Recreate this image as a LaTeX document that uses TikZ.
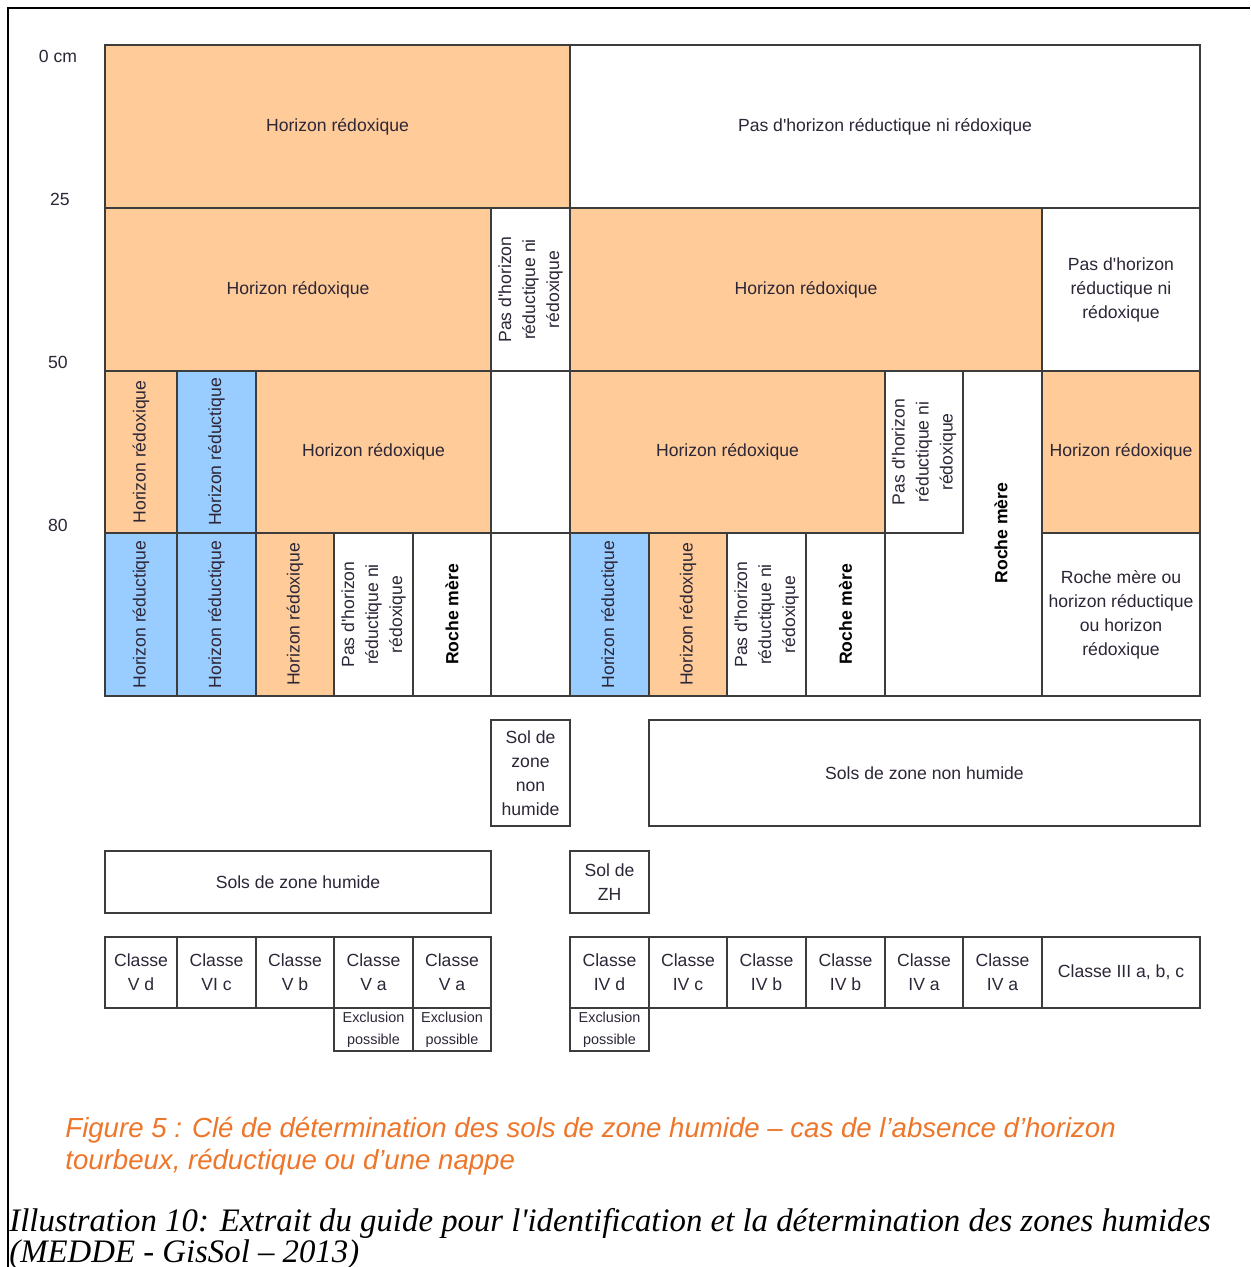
\documentclass[tikz,border=0pt]{standalone}
\usepackage{fontspec}
\setmainfont{Liberation Sans}
\newfontfamily\diagfont{Liberation Sans}
\newfontfamily\capfont{Liberation Serif}
\definecolor{peach}{HTML}{FFCC99}
\definecolor{skyb}{HTML}{99CCFF}
\definecolor{linec}{RGB}{60,60,60}
\definecolor{txtc}{RGB}{45,38,55}
\definecolor{orangecap}{RGB}{238,118,42}
\newcommand\diagsize{\diagfont\fontsize{8.8}{12}\selectfont}
\newcommand\smallsize{\diagfont\fontsize{7.2}{11}\selectfont}
\tikzset{
  cellline/.style={draw=linec, line width=1pt},
  txt/.style={font=\diagsize, text=txtc, align=center, inner sep=0pt},
  rtxt/.style={txt, rotate=90},
  btxt/.style={txt, rotate=90, font=\diagsize\bfseries, text=black},
  stxt/.style={txt, font=\smallsize},
  orcap/.style={anchor=base west, inner sep=0pt, text=orangecap, font=\diagfont\itshape\fontsize{13.8}{16}\selectfont},
  illcap/.style={anchor=base west, inner sep=0pt, text=black, font=\capfont\itshape\fontsize{16.4}{18}\selectfont},
}
\newcommand\cellbox[8]{\draw[cellline,fill=#6] (#2,#3) rectangle (#4,#5);
  \node[#7] (#1) at ({(#2+#4)/2},{(#3+#5)/2}) {#8};}
\begin{document}
\begin{tikzpicture}[x=0.5pt,y=-0.5pt]
\useasboundingbox (0,0) rectangle (1250,1267);
\fill[white] (0,0) rectangle (1250,1267);
% frame
\draw[black, line width=0.8pt] (8,1267) -- (8,8) -- (1250,8);
% depth labels
\node[txt] (d0) at (58,56) {0 cm};
\node[txt] (d25) at (60,199) {25};
\node[txt] (d50) at (58,362) {50};
\node[txt] (d80) at (58,525) {80};
% row 1
\cellbox{r1a}{105}{45}{570}{208}{peach}{txt}{Horizon rédoxique}
\cellbox{r1b}{570}{45}{1200}{208}{white}{txt}{Pas d'horizon réductique ni rédoxique}
% row 2
\cellbox{r2a}{105}{208}{491}{371}{peach}{txt}{Horizon rédoxique}
\cellbox{r2b}{491}{208}{570}{371}{white}{rtxt}{Pas d'horizon\\réductique ni\\rédoxique}
\cellbox{r2c}{570}{208}{1042}{371}{peach}{txt}{Horizon rédoxique}
\cellbox{r2d}{1042}{208}{1200}{371}{white}{txt}{Pas d'horizon\\réductique ni\\rédoxique}
% row 3
\cellbox{r3a}{105}{371}{177}{533}{peach}{rtxt}{Horizon rédoxique}
\cellbox{r3b}{177}{371}{256}{533}{skyb}{rtxt}{Horizon réductique}
\cellbox{r3c}{256}{371}{491}{533}{peach}{txt}{Horizon rédoxique}
\cellbox{r3d}{491}{371}{570}{533}{white}{txt}{}
\cellbox{r3e}{570}{371}{885}{533}{peach}{txt}{Horizon rédoxique}
\cellbox{r3f}{885}{371}{963}{533}{white}{rtxt}{Pas d'horizon\\réductique ni\\rédoxique}
\cellbox{r3g}{1042}{371}{1200}{533}{peach}{txt}{Horizon rédoxique}
% row 4
\cellbox{r4a}{105}{533}{177}{696}{skyb}{rtxt}{Horizon réductique}
\cellbox{r4b}{177}{533}{256}{696}{skyb}{rtxt}{Horizon réductique}
\cellbox{r4c}{256}{533}{334}{696}{peach}{rtxt}{Horizon rédoxique}
\cellbox{r4d}{334}{533}{413}{696}{white}{rtxt}{Pas d'horizon\\réductique ni\\rédoxique}
\cellbox{r4e}{413}{533}{491}{696}{white}{btxt}{Roche mère}
\cellbox{r4f}{491}{533}{570}{696}{white}{txt}{}
\cellbox{r4g}{570}{533}{649}{696}{skyb}{rtxt}{Horizon réductique}
\cellbox{r4h}{649}{533}{727}{696}{peach}{rtxt}{Horizon rédoxique}
\cellbox{r4i}{727}{533}{806}{696}{white}{rtxt}{Pas d'horizon\\réductique ni\\rédoxique}
\cellbox{r4j}{806}{533}{885}{696}{white}{btxt}{Roche mère}
\cellbox{r4l}{1042}{533}{1200}{696}{white}{txt}{Roche mère ou\\horizon réductique\\ou horizon\\rédoxique}
% L-shaped Roche mere region
\draw[cellline, fill=white] (963,371) -- (1042,371) -- (1042,696) -- (885,696) -- (885,533) -- (963,533) -- cycle;
\node[btxt] (rmL) at (1001,533) {Roche mère};
% result boxes
\cellbox{snh1}{491}{720}{570}{826}{white}{txt}{Sol de\\zone\\non\\humide}
\cellbox{snh2}{649}{720}{1200}{826}{white}{txt}{Sols de zone non humide}
\cellbox{szh1}{105}{851}{491}{913}{white}{txt}{Sols de zone humide}
\cellbox{szh2}{570}{851}{649}{913}{white}{txt}{Sol de\\ZH}
% classes
\cellbox{c1}{105}{937}{177}{1008}{white}{txt}{Classe\\V d}
\cellbox{c2}{177}{937}{256}{1008}{white}{txt}{Classe\\VI c}
\cellbox{c3}{256}{937}{334}{1008}{white}{txt}{Classe\\V b}
\cellbox{c4}{334}{937}{413}{1008}{white}{txt}{Classe\\V a}
\cellbox{c5}{413}{937}{491}{1008}{white}{txt}{Classe\\V a}
\cellbox{c6}{570}{937}{649}{1008}{white}{txt}{Classe\\IV d}
\cellbox{c7}{649}{937}{727}{1008}{white}{txt}{Classe\\IV c}
\cellbox{c8}{727}{937}{806}{1008}{white}{txt}{Classe\\IV b}
\cellbox{c9}{806}{937}{885}{1008}{white}{txt}{Classe\\IV b}
\cellbox{c10}{885}{937}{963}{1008}{white}{txt}{Classe\\IV a}
\cellbox{c11}{963}{937}{1042}{1008}{white}{txt}{Classe\\IV a}
\cellbox{c12}{1042}{937}{1200}{1008}{white}{txt}{Classe III a, b, c}
% exclusions
\cellbox{e1}{334}{1008}{413}{1051}{white}{stxt}{Exclusion\\possible}
\cellbox{e2}{413}{1008}{491}{1051}{white}{stxt}{Exclusion\\possible}
\cellbox{e3}{570}{1008}{649}{1051}{white}{stxt}{Exclusion\\possible}
% captions
\node[orcap] (cap1) at (65,1137) {Figure 5 : Clé de détermination des sols de zone humide – cas de l’absence d’horizon};
\node[orcap] (cap2) at (65,1169) {tourbeux, réductique ou d’une nappe};
\node[illcap] (ill1) at (9,1231) {Illustration 10: Extrait du guide pour l'identification et la détermination des zones humides};
\node[illcap] (ill2) at (9,1262) {(MEDDE - GisSol – 2013)};
\end{tikzpicture}
\end{document}
